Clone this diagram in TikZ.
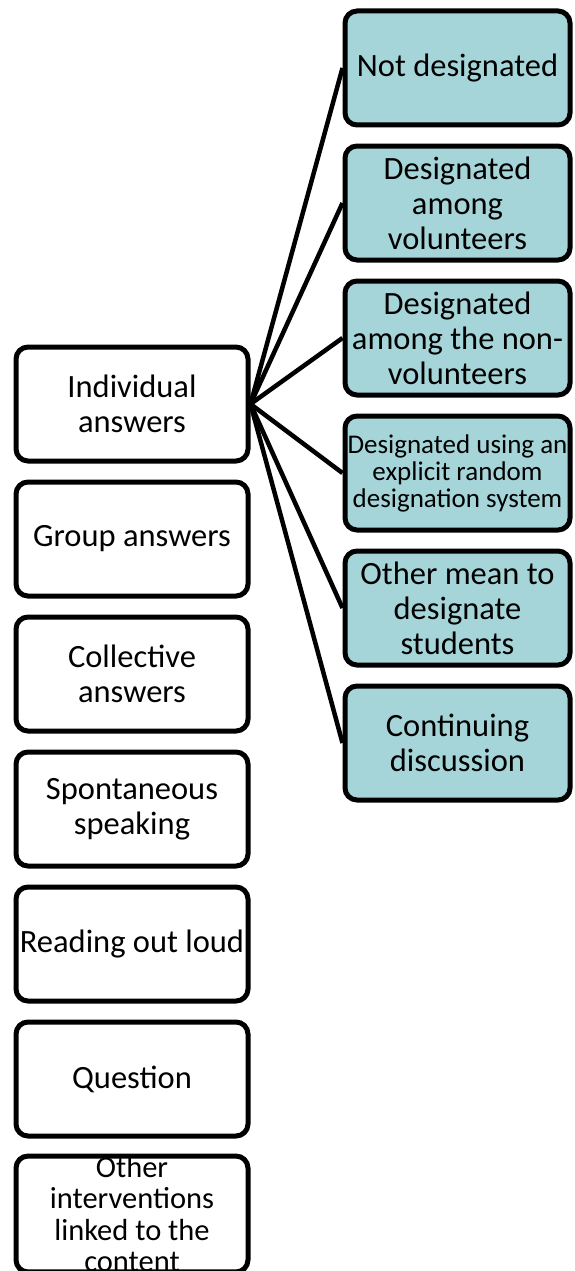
\documentclass[tikz,border=0pt]{standalone}
\usepackage{fontspec}
\setmainfont{Carlito}
\definecolor{tealfill}{HTML}{A6D5D9}
\begin{document}
\begin{tikzpicture}[x=1pt,y=-1pt,
  box/.style={draw=black, line width=5pt, rounded corners=12pt, align=center,
    inner sep=0pt, font=\fontsize{32.5}{35}\selectfont},
  catbox/.style={box, fill=white, minimum width=232pt, minimum height=114pt},
  subbox/.style={box, fill=tealfill, minimum width=225pt, minimum height=114pt},
  link/.style={line width=4.5pt}]
\useasboundingbox (0,0) rectangle (574,1271);
\clip (0,0) rectangle (574,1271);
% categories of interventions (left column)
\node[catbox] (ind) at (132,404) {Individual\\answers};
\node[catbox] (grp) at (132,539) {Group answers};
\node[catbox] (col) at (132,674) {Collective\\answers};
\node[catbox] (spo) at (132,809) {Spontaneous\\speaking};
\node[catbox] (rea) at (132,944) {Reading out loud};
\node[catbox] (que) at (132,1079) {Question};
\node[catbox, font=\fontsize{30.5}{31.5}\selectfont] (oth) at (132,1214) {Other\\interventions\\linked to the\\content};
% ways of designating students (right column)
\node[subbox] (s1) at (457.5,68) {Not designated};
\node[subbox] (s2) at (457.5,203) {Designated\\among\\volunteers};
\node[subbox] (s3) at (457.5,338) {Designated\\among the non-\\volunteers};
\node[subbox, font=\fontsize{27}{27}\selectfont] (s4) at (457.5,473) {Designated using an\\explicit random\\designation system};
\node[subbox] (s5) at (457.5,608) {Other mean to\\designate\\students};
\node[subbox] (s6) at (457.5,743) {Continuing\\discussion};
% connectors
\foreach \s in {s1,s2,s3,s4,s5,s6}
  \draw[link] (ind.east) -- (\s.west);
\end{tikzpicture}
\end{document}
